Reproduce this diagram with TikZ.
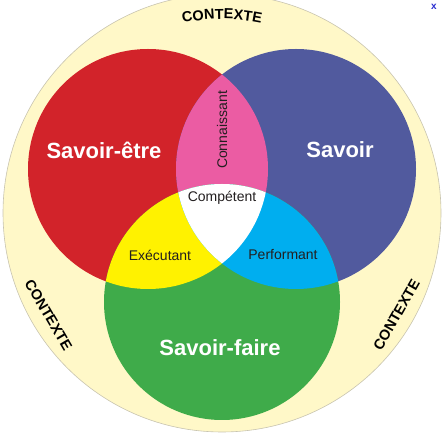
\documentclass[tikz,border=0pt]{standalone}
\usepackage{fontspec}
\setmainfont{Liberation Sans}
\usepackage{xcolor}
\usepackage{tikz}
\usetikzlibrary{positioning,calc,decorations.text}
\definecolor{fond}{HTML}{FFF8C8}
\definecolor{bord}{HTML}{C8C4B0}
\definecolor{rouge}{HTML}{D2232A}
\definecolor{bleu}{HTML}{515A9E}
\definecolor{vert}{HTML}{3FAB4A}
\definecolor{rose}{HTML}{EB5CA3}
\definecolor{jaune}{HTML}{FFF200}
\definecolor{ciel}{HTML}{00AEEF}
\definecolor{texte}{HTML}{231F20}
\definecolor{croix}{HTML}{2A2ED0}
\newcommand{\ctxfont}{\bfseries\fontsize{14.5}{14.5}\selectfont}

\tikzset{
    cercle/.style={font=\bfseries\fontsize{22}{22}\selectfont, text=white},
    zone/.style={font=\fontsize{14}{14}\selectfont, text=texte},
    ctxlabel/.style={font=\ctxfont, text=black, inner sep=0pt},
    contexte/.style={decorate, decoration={text along path,
        text={|\ctxfont\color{black}|CONTEXTE}, text align=center}}
}

\begin{document}
\begin{tikzpicture}[x=1pt,y=1pt]
    \useasboundingbox (0,0) rectangle (447,436);
    \coordinate (ctx) at (222,223);
    \coordinate (etre) at (148,267);
    \coordinate (savoir) at (296,267);
    \coordinate (faire) at (222,134);

    % fond et trois cercles
    \fill[fond, draw=bord, line width=0.6pt] (ctx) circle[radius=219pt];
    \fill[rouge] (etre) circle[radius=120pt];
    \fill[bleu] (savoir) circle[radius=120pt];
    \fill[vert] (faire) circle[radius=118pt];

    % intersections
    \begin{scope}
        \clip (etre) circle[radius=120pt];
        \fill[rose] (savoir) circle[radius=120pt];
        \fill[jaune] (faire) circle[radius=118pt];
    \end{scope}
    \begin{scope}
        \clip (savoir) circle[radius=120pt];
        \fill[ciel] (faire) circle[radius=118pt];
    \end{scope}
    \begin{scope}
        \clip (etre) circle[radius=120pt];
        \clip (savoir) circle[radius=120pt];
        \fill[white] (faire) circle[radius=118pt];
    \end{scope}

    % textes
    \node[cercle] (lEtre) at (104,286) {Savoir-être};
    \node[cercle] (lSavoir) at (340,286) {Savoir};
    \node[cercle] (lFaire) at (220,88) {Savoir-faire};
    \node[zone, rotate=90] (lConn) at (222,306) {Connaissant};
    \node[zone] (lComp) at (222,238) {Compétent};
    \node[zone] (lExec) at (160,181) {Exécutant};
    \node[zone] (lPerf) at (283,181) {Performant};

    % contexte
    \path[contexte] ([shift={(114:194pt)}]ctx) arc[start angle=114, end angle=66, radius=194pt];
    \node[ctxlabel, rotate=-59.6] (ctxG) at (48.5,121) {CONTEXTE};
    \node[ctxlabel, rotate=60.3] (ctxD) at (396.5,121) {CONTEXTE};

    \node[font=\bfseries\fontsize{10}{10}\selectfont, text=croix, inner sep=1pt] (ferme) at (434,429) {x};
\end{tikzpicture}
\end{document}
